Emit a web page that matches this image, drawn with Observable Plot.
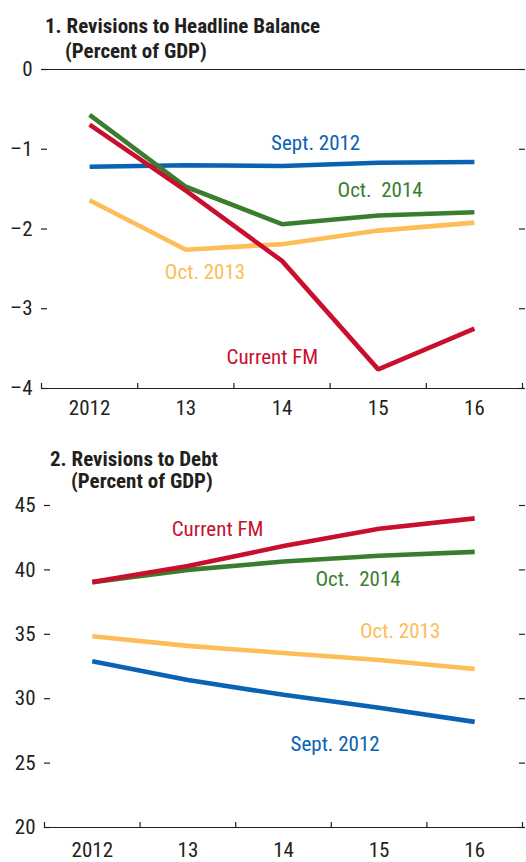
<!DOCTYPE html>
<html>
<head>
<meta charset="utf-8">
<script src="https://cdn.jsdelivr.net/npm/d3@7"></script>
<script src="https://cdn.jsdelivr.net/npm/@observablehq/plot@0.6"></script>
<style>
  body { margin: 0; background: #fff; }
  #wrap { position: relative; width: 526px; height: 862px; overflow: hidden;
          font-family: "Roboto Condensed", "Roboto", sans-serif; font-stretch: condensed; color: #231f20; }
  .t { position: absolute; font-weight: bold; font-size: 21px; line-height: 21px; white-space: pre; }
  .panel { position: absolute; left: 0; }
  svg text { font-stretch: condensed; }
</style>
</head>
<body>
<div id="wrap">
  <div class="t" style="left:45px;top:16px">1. Revisions to Headline Balance</div>
  <div class="t" style="left:65px;top:41px">(Percent of GDP)</div>
  <div class="panel" id="p1" style="top:0px"></div>
  <div class="t" style="left:50px;top:449px">2. Revisions to Debt</div>
  <div class="t" style="left:71px;top:471px">(Percent of GDP)</div>
  <div class="panel" id="p2" style="top:440px"></div>
</div>
<script>
// ---------- data ----------
const years = [2012, 2013, 2014, 2015, 2016];
const yearLabels = ["2012", "13", "14", "15", "16"];
const seriesNames = ["Sept. 2012", "Oct. 2013", "Oct. 2014", "Current FM"];
const seriesColors = ["#0a62b2", "#fdbd57", "#3a7d2e", "#c8102e"];

// Panel 1: headline balance (percent of GDP)
const balanceSept2012 = [-1.22, -1.20, -1.21, -1.17, -1.16];
const balanceOct2013  = [-1.64, -2.26, -2.19, -2.02, -1.92];
const balanceOct2014  = [-0.57, -1.47, -1.94, -1.83, -1.79];
const balanceCurrent  = [-0.69, -1.52, -2.40, -3.76, -3.25];
const balanceTicks = [-4, -3, -2, -1, 0];

// Panel 2: debt (percent of GDP)
const debtSept2012 = [32.9, 31.45, 30.3, 29.3, 28.2];
const debtOct2013  = [34.85, 34.1, 33.55, 33.0, 32.3];
const debtOct2014  = [39.05, 40.0, 40.65, 41.1, 41.4];
const debtCurrent  = [39.05, 40.3, 41.85, 43.2, 44.0];
const debtTicks = [20, 25, 30, 35, 40, 45];

// ---------- helpers ----------
const FONT = '"Roboto Condensed", "Roboto", sans-serif';
const INK = "#231f20";
const fmtTick = d => (d < 0 ? "\u2013" + Math.abs(d) : String(d));

function toLong(arrs) {
  const out = [];
  seriesNames.forEach((s, k) => years.forEach((yr, i) => out.push({year: yr, value: arrs[k][i], series: s})));
  return out;
}

const balanceData = toLong([balanceSept2012, balanceOct2013, balanceOct2014, balanceCurrent]);
const debtData = toLong([debtSept2012, debtOct2013, debtOct2014, debtCurrent]);

// label annotations (series name, anchor year, anchor value)
const balanceLabels = [
  {series: "Sept. 2012", year: 2014.35, value: -1.01},
  {series: "Oct. 2014",  year: 2015.02, value: -1.60, text: "Oct.  2014"},
  {series: "Oct. 2013",  year: 2013.20, value: -2.63},
  {series: "Current FM", year: 2013.90, value: -3.69}
];
const debtLabels = [
  {series: "Current FM", year: 2013.31, value: 42.6},
  {series: "Oct. 2014",  year: 2014.78, value: 38.72, text: "Oct.  2014"},
  {series: "Oct. 2013",  year: 2015.22, value: 34.7},
  {series: "Sept. 2012", year: 2014.54, value: 25.96}
];

const boundaries = d3.range(years.length + 1).map(i => years[0] - 0.5 + i);

function panel({data, labels, ticks, height, marginTop, marginBottom, marginLeft, marginRight, xPad, yPad, zeroLine}) {
  const [ymin, ymax] = d3.extent(ticks);
  const xmin = boundaries[0], xmax = boundaries[boundaries.length - 1];
  const plotH = height - marginTop - marginBottom;
  const plotW = 526 - marginLeft - marginRight;
  const tickLen = 5 * (ymax - ymin) / plotH;   // 5px vertical ticks on the x axis
  const tickW = 6 * (xmax - xmin) / plotW;     // 6px horizontal ticks on the y axes
  const marks = [
    Plot.ruleY([ymin], {stroke: INK, strokeWidth: 1.2}),
    Plot.ruleX(boundaries, {x: d => d, y1: ymin, y2: ymin + tickLen, stroke: INK, strokeWidth: 1.2}),
    Plot.ruleY(ticks, {y: d => d, x1: xmin, x2: xmin + tickW, stroke: INK, strokeWidth: 1.2}),
    Plot.ruleY(ticks, {y: d => d, x1: xmax - tickW * 0.5, x2: xmax + tickW * 0.5, stroke: INK, strokeWidth: 1.2}),
    Plot.axisY({anchor: "left", ticks, tickSize: 0, tickPadding: yPad, tickFormat: fmtTick, label: null, fill: INK}),
    Plot.axisX({ticks: years, tickSize: 0, tickPadding: xPad, tickFormat: d => yearLabels[years.indexOf(d)], label: null, fill: INK}),
    Plot.line(data, {x: "year", y: "value", z: "series", stroke: "series", strokeWidth: 4.6, strokeLinecap: "butt", strokeLinejoin: "miter"}),
    Plot.text(labels, {x: "year", y: "value", text: d => d.text || d.series, fill: "series", lineAnchor: "bottom", textAnchor: "middle", fontSize: 21})
  ];
  if (zeroLine) marks.splice(1, 0, Plot.ruleY([0], {stroke: INK, strokeWidth: 1.2}));
  return Plot.plot({
    width: 526, height, marginTop, marginBottom, marginLeft, marginRight,
    x: {domain: [xmin, xmax]},
    y: {domain: [ymin, ymax]},
    color: {domain: seriesNames, range: seriesColors},
    style: {fontFamily: FONT, fontSize: "21px", color: INK, background: "transparent", overflow: "visible"},
    marks
  });
}

document.getElementById("p1").append(panel({
  data: balanceData, labels: balanceLabels, ticks: balanceTicks,
  height: 430, marginTop: 69, marginBottom: 42, marginLeft: 41, marginRight: 4, xPad: 12, yPad: 9, zeroLine: true
}));
document.getElementById("p2").append(panel({
  data: debtData, labels: debtLabels, ticks: debtTicks,
  height: 422, marginTop: 65, marginBottom: 35, marginLeft: 44, marginRight: 4, xPad: 15, yPad: 9, zeroLine: false
}));
</script>
</body>
</html>
